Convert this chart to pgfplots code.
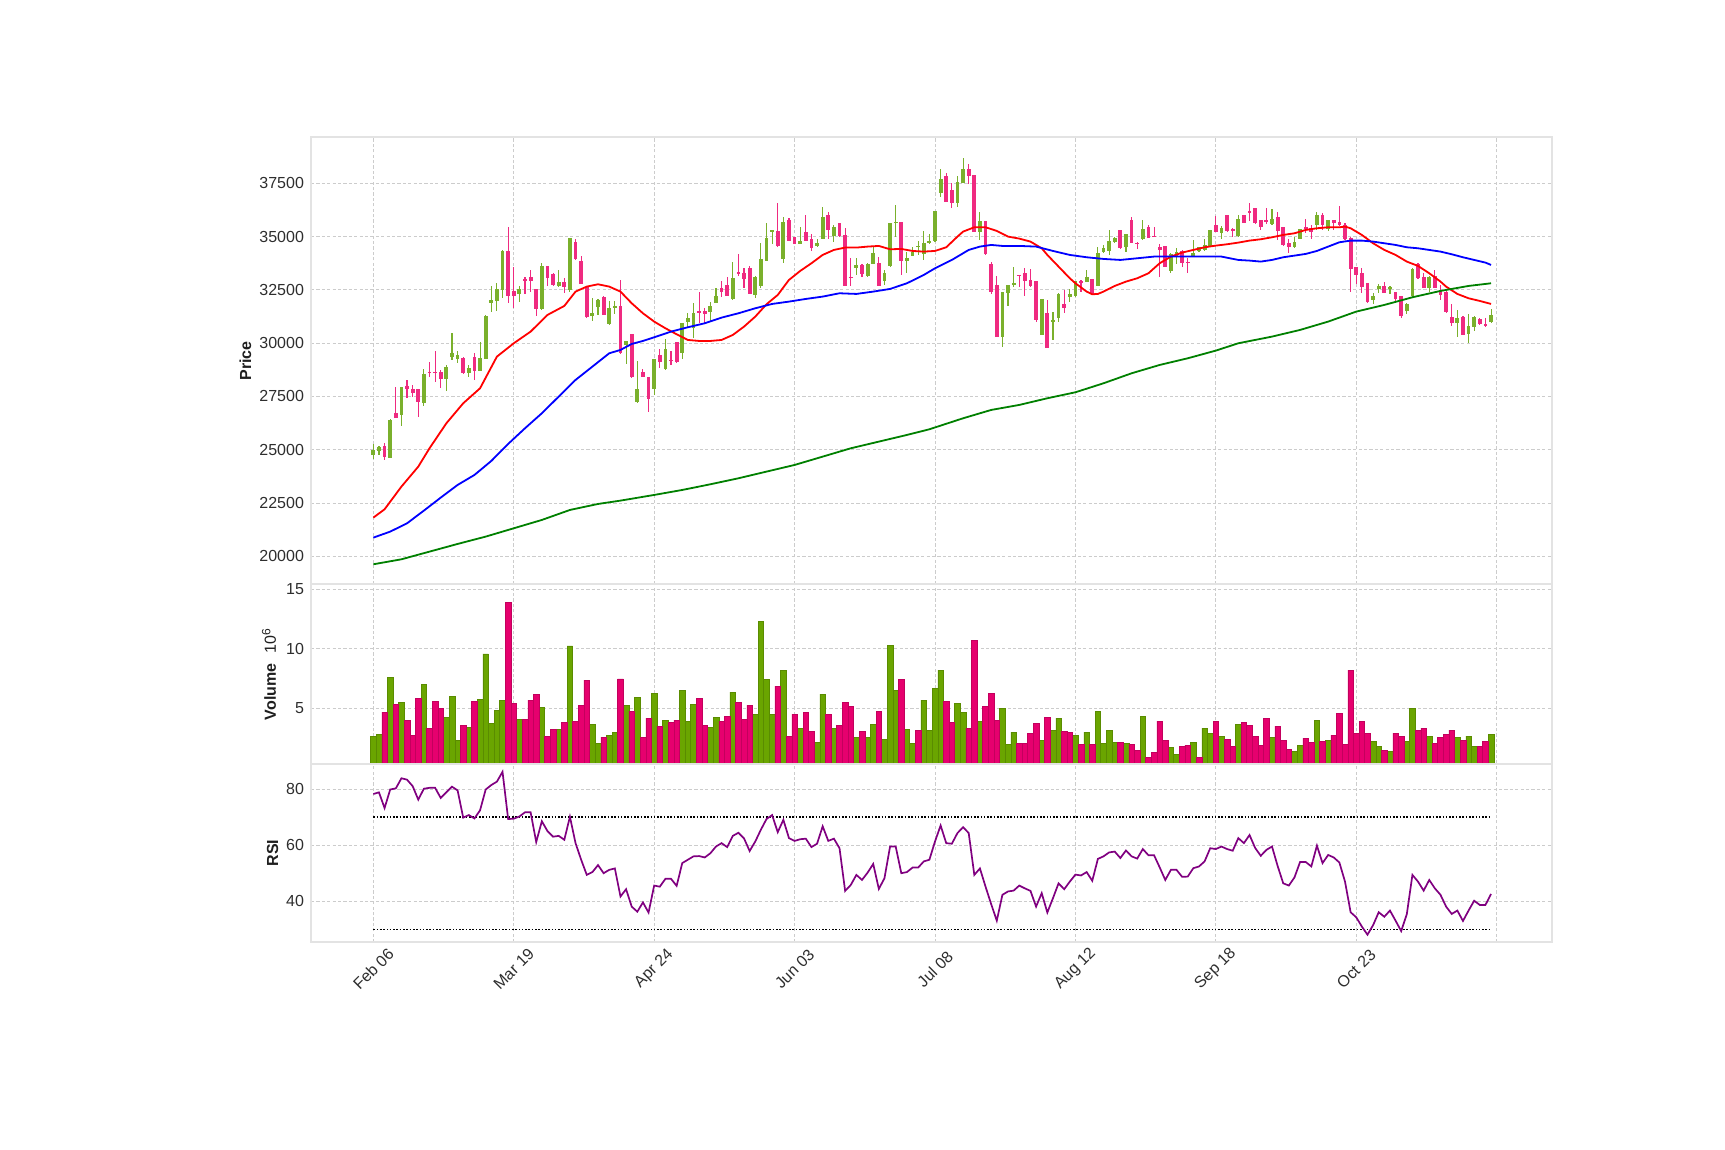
\documentclass[border=0pt]{standalone}
\usepackage{pgfplots}
\pgfplotsset{compat=1.18}
\usepackage{pgfplotstable}
\usepackage{fontspec}
\setmainfont{Liberation Sans}
\definecolor{cup}{HTML}{7AB02C}
\definecolor{cdn}{HTML}{EF2A80}
\definecolor{vup}{HTML}{6AA500}
\definecolor{vdn}{HTML}{E6006E}
\definecolor{rsic}{HTML}{800080}
\definecolor{gmcol}{HTML}{008000}

\pgfplotstableread{
i o h l c v vu r
0 24754 25270 24551 24989 2.67 1 78.2
1 24958 25177 24754 25130 2.84 1 78.8
2 25177 25302 24520 24676 4.69 0 73.2
3 24629 26420 24600 26396 7.63 1 79.8
4 26709 27929 26490 26506 5.36 0 80.2
5 26631 27950 26115 27929 5.53 1 83.8
6 27992 28273 27413 27867 4.02 0 83.3
7 27851 28039 27491 27679 2.76 0 81.0
8 27835 27850 26522 27257 5.87 0 76.2
9 27178 28805 27053 28555 7.04 1 80.1
10 28664 29133 28398 28633 3.34 0 80.4
11 28664 29634 28164 28633 5.61 0 80.4
12 28633 28742 27882 28336 5.03 0 76.8
13 28336 28961 27773 28883 4.27 1 78.8
14 29368 30463 29212 29524 6.03 1 80.8
15 29243 29650 29055 29431 2.34 1 79.5
16 29290 29368 28539 28617 3.60 0 69.8
17 28586 28961 28398 28821 3.43 1 70.7
18 29337 29524 28273 28711 5.61 0 69.5
19 28711 30072 28690 29290 5.78 1 72.4
20 29274 31310 29243 31292 9.57 1 79.8
21 31902 32699 31480 32011 3.77 1 81.4
22 31996 32840 31495 32527 4.86 1 82.6
23 32496 34350 32105 34326 5.70 1 86.1
24 34326 35468 31902 32230 13.93 0 69.3
25 32449 33591 31636 32230 5.44 0 69.4
26 32324 32699 31917 32543 4.10 1 70.2
27 32997 33122 32293 32934 4.10 0 71.7
28 33106 33434 32418 32934 5.70 0 71.7
29 32527 32540 31292 31620 6.20 0 61.1
30 31589 33747 31558 33622 5.11 1 68.5
31 33622 33640 32699 33075 2.67 0 65.0
32 33247 33278 32699 32731 3.26 0 63.0
33 32684 33434 32621 32856 3.26 1 63.3
34 32872 33043 32371 32652 3.85 0 61.9
35 32496 34951 32418 34920 10.24 1 70.1
36 34764 34889 33904 33935 3.94 0 60.7
37 33841 34076 32760 32778 5.28 0 54.8
38 32652 32670 31183 31214 7.38 0 49.4
39 31292 32105 31026 31417 3.68 1 50.4
40 31714 32058 31323 32027 2.09 1 52.9
41 32183 32200 31308 31339 2.59 0 50.0
42 30901 31996 30838 31636 2.76 1 51.2
43 31667 31996 31354 31761 3.00 1 51.7
44 31745 32965 29500 29524 7.47 0 41.7
45 29915 30120 29024 30103 5.28 1 44.3
46 30432 30450 28380 28398 4.77 0 38.1
47 27225 29165 27200 27851 5.95 1 36.3
48 28633 28774 28398 28430 2.59 0 39.6
49 28398 28410 26787 27366 4.19 0 36.0
50 27835 29260 27569 29243 6.29 1 45.6
51 29446 29712 28852 29133 3.51 0 45.2
52 28774 30181 28742 29712 4.02 1 48.0
53 29212 29634 28961 29165 3.85 0 48.0
54 30041 30060 29086 29133 4.02 0 45.5
55 29556 30950 29243 30932 6.54 1 53.6
56 31010 31433 30776 31167 3.94 1 54.8
57 30697 31870 30228 31401 5.36 1 56.0
58 31495 32386 30963 31433 5.87 0 56.1
59 31511 31636 30963 31354 3.60 0 55.6
60 31480 31949 31010 31745 3.43 1 57.1
61 31902 32574 31870 32214 4.27 1 59.5
62 32590 32903 32183 32418 3.94 0 60.7
63 32715 33122 32200 32214 4.36 0 59.3
64 32089 33825 32027 33059 6.37 1 63.3
65 33341 34185 33153 33262 5.53 0 64.4
66 33294 33513 32606 33028 4.10 0 62.4
67 33513 33638 32290 32308 5.28 0 57.9
68 32277 33140 32105 33122 4.52 1 61.3
69 32699 34686 32574 33951 12.33 1 65.5
70 33872 35624 33860 34936 7.46 1 69.3
71 35202 35330 34639 35311 4.52 1 70.7
72 35264 36562 34529 34576 6.87 0 64.6
73 33966 35937 33747 35687 8.22 1 69.0
74 35780 35890 34795 34811 2.67 0 62.5
75 34967 34980 34654 34670 4.52 0 61.5
76 34670 35436 34654 34795 3.34 1 62.1
77 35233 35999 34795 34811 4.69 0 62.3
78 34889 35108 34326 34482 3.09 0 59.3
79 34561 34873 34498 34686 2.17 1 60.5
80 34905 36406 34890 35921 6.20 1 66.7
81 36015 36171 34873 35296 4.52 0 61.5
82 35030 35546 34733 35436 3.34 1 62.3
83 35624 35655 34998 35014 3.60 0 58.9
84 35077 35389 32680 32699 5.53 0 43.7
85 33122 33982 32699 33043 5.19 0 45.8
86 33513 33982 33200 33669 2.59 1 49.4
87 33669 33716 33090 33247 3.09 0 47.6
88 33153 33747 33122 33716 2.59 1 50.2
89 33700 34498 33690 34232 3.68 1 53.3
90 33747 34060 32680 32699 4.77 0 44.4
91 32934 33434 32731 33278 2.42 1 48.2
92 33638 35640 33591 35624 10.32 1 59.5
93 35624 36484 34967 35702 6.54 1 59.5
94 35687 35700 33184 33872 7.46 0 50.0
95 33872 34294 33309 34013 3.26 1 50.4
96 34091 34529 34080 34294 2.09 1 52.0
97 34529 34795 34138 34561 3.18 0 52.0
98 34170 35280 33904 34686 5.70 1 54.2
99 34686 35108 34654 34795 3.18 1 54.8
100 34811 36220 34764 36203 6.71 1 61.3
101 37063 38158 36844 37704 8.22 1 67.0
102 37845 37970 36620 36641 5.61 0 60.7
103 37188 37501 36328 36594 3.85 0 60.5
104 36594 37845 36375 37548 5.44 1 64.3
105 37532 38674 37510 38158 4.69 1 66.4
106 38158 38392 37454 37861 3.34 0 64.3
107 37892 37910 35210 35233 10.74 0 49.4
108 35233 36140 34842 35734 3.94 1 51.7
109 35734 35750 34138 34170 5.19 0 45.2
110 33716 33825 32293 32418 6.29 0 39.0
111 32731 33153 30290 30306 4.02 0 33.1
112 30306 32400 29806 32386 5.03 1 42.3
113 32371 32750 31761 32731 2.00 1 43.5
114 32731 33560 32621 32809 3.00 1 43.8
115 33200 33215 32652 33169 2.09 0 45.6
116 33278 33513 32214 32934 2.09 0 44.6
117 32965 33481 32652 32699 2.92 0 43.7
118 32918 32930 31010 31088 3.76 0 38.1
119 30385 32089 30370 32058 2.34 1 42.9
120 31401 32011 29775 29790 4.27 0 36.0
121 31010 31448 30150 31088 3.18 1 41.1
122 31198 32340 31010 32293 4.19 1 46.4
123 31839 32496 31401 31636 3.09 0 44.3
124 32183 32527 31949 32308 3.00 0 47.0
125 32214 32930 32183 32918 2.76 1 49.5
126 32903 32965 32418 32809 2.00 0 49.2
127 32887 33434 32856 33122 3.00 1 50.4
128 33012 33030 32261 32308 2.00 0 47.3
129 32699 34529 32680 34216 4.77 1 55.1
130 34294 34608 34248 34451 2.09 1 56.0
131 34326 35311 34138 34795 3.18 1 57.4
132 34764 34998 34717 34951 2.17 1 57.7
133 35311 35330 34404 34451 2.17 0 55.4
134 34498 35140 34294 35124 2.09 1 58.1
135 35780 35937 34700 34717 2.00 0 56.0
136 34717 34764 34404 34639 1.50 0 55.2
137 34873 35780 34842 35342 4.36 1 58.6
138 35468 35546 34930 34951 0.91 0 56.4
139 35030 35468 34980 34998 1.33 0 56.4
140 34529 34654 33090 34388 3.94 0 52.1
141 34561 34580 33575 33591 2.34 0 47.6
142 33388 34216 33309 34170 1.75 1 51.2
143 34060 34451 33716 34294 1.16 1 51.2
144 34326 34373 33591 33779 1.83 0 48.7
145 33810 33982 33278 33779 1.92 0 48.8
146 34060 34842 34029 34216 2.17 1 51.8
147 34342 34529 34294 34498 0.91 0 52.4
148 34373 34873 34342 34608 3.34 1 54.2
149 34561 35330 34529 35311 2.92 1 58.9
150 35546 35968 35210 35233 3.94 0 58.6
151 35186 35499 34873 35389 2.67 1 59.5
152 35999 36015 35233 35280 2.42 0 58.6
153 35342 35389 34998 35280 1.83 0 58.0
154 35030 36015 34998 35812 3.68 1 62.5
155 36015 36030 35624 35655 3.85 0 60.7
156 36203 36562 35734 36093 3.60 0 63.6
157 36328 36340 35593 35655 2.67 0 59.0
158 35765 35780 35311 35436 1.92 0 56.2
159 35780 36328 35593 35671 4.19 0 58.3
160 35577 36281 35560 35827 2.59 1 59.5
161 35905 36140 34842 35264 3.51 0 52.6
162 35436 35450 34561 34608 2.34 0 46.4
163 34686 34873 34216 34498 1.59 0 45.6
164 34498 34998 34451 34764 1.42 1 48.5
165 34905 35360 34889 35342 1.92 1 54.0
166 35468 35812 35186 35342 2.50 0 54.0
167 35389 35546 34905 35233 2.17 0 52.4
168 35546 36171 35311 36015 4.02 1 59.8
169 36015 36125 35311 35546 2.25 0 53.6
170 35342 35800 35280 35780 2.34 1 56.5
171 35780 35795 35311 35655 2.76 0 55.6
172 35687 36437 35499 35530 4.61 0 53.8
173 35546 35655 34842 34873 2.00 0 47.0
174 34951 34998 32418 33466 8.22 0 36.1
175 33575 33590 32778 33200 2.92 0 34.3
176 33294 33513 32371 32621 3.94 0 31.0
177 32809 32825 31902 31949 2.92 0 28.1
178 32027 32371 31823 32214 2.25 1 31.5
179 32527 32778 32340 32699 1.83 1 36.1
180 32684 32887 32340 32371 1.50 0 34.5
181 32527 32699 32324 32652 1.42 1 36.7
182 32386 32400 31902 32058 2.92 0 33.1
183 32214 32230 31167 31276 2.67 0 29.4
184 31495 31870 31354 31839 2.25 1 35.4
185 32214 33528 32183 33497 5.03 1 49.4
186 33716 33747 32997 33043 3.18 0 47.0
187 33122 33309 32574 32606 3.34 0 43.8
188 32606 33140 32418 33122 2.67 1 47.6
189 33153 33434 32574 32606 2.09 0 44.6
190 32496 32731 32027 32246 2.59 0 42.3
191 32418 32430 31401 31480 2.84 0 38.1
192 31214 31823 30807 30963 3.18 0 35.5
193 30963 31558 30306 31198 2.59 1 36.7
194 31245 31260 30370 30385 2.34 0 33.0
195 30416 31354 29994 30807 2.67 1 36.7
196 30776 31292 30588 31214 1.83 1 40.2
197 31136 31167 30838 30885 1.83 0 38.7
198 30885 31167 30776 30854 2.25 0 38.7
199 30979 31589 30932 31323 2.84 1 42.6
}\data

\pgfplotsset{
  panel/.style={
    scale only axis, width=620.35pt,
    xmin=-11.1, xmax=209.8,
    xtick={0,25,...,200},
    grid=major,
    major grid style={draw=black!20, line width=0.45pt, dash pattern=on 1.6pt off 1.1pt},
    axis line style={draw=black!11, line width=1pt},
    major tick length=0pt,
    tick label style={font=\fontsize{8}{9.6}\selectfont, text=black!82},
    /pgf/number format/assume math mode=true,
    /pgf/number format/1000 sep={},
    /pgf/number format/fixed,
    scaled y ticks=false,
    anchor=south west,
  },
  ylab/.style={every axis y label/.style={at={(rel axis cs:0,0.5)}, xshift=#1, rotate=90, anchor=center,
    font=\bfseries\fontsize{8}{9.6}\selectfont, text=black!88}},
}

\begin{document}
\begin{tikzpicture}
\path[use as bounding box] (0,0) rectangle (862.5pt,575pt);

% ---------- price panel ----------
\begin{axis}[panel, at={(155.5pt,282.75pt)}, height=223.5pt,
  ymin=18677, ymax=39649,
  ytick={20000,22500,...,37500},
  xticklabels={},
  ylabel={Price}, ylab=-32.75pt,
]
% wicks
\addplot[draw=none, mark=none, forget plot,
  restrict expr to domain={\thisrow{c}-\thisrow{o}}{0:100000},
  error bars/.cd, y dir=both, y explicit, error mark=none,
  error bar style={draw=cup, line width=0.55pt}]
  table[x=i, y expr={(\thisrow{h}+\thisrow{l})/2}, y error expr={(\thisrow{h}-\thisrow{l})/2}] {\data};
\addplot[draw=none, mark=none, forget plot,
  restrict expr to domain={\thisrow{c}-\thisrow{o}}{-100000:-0.001},
  error bars/.cd, y dir=both, y explicit, error mark=none,
  error bar style={draw=cdn, line width=0.55pt}]
  table[x=i, y expr={(\thisrow{h}+\thisrow{l})/2}, y error expr={(\thisrow{h}-\thisrow{l})/2}] {\data};
% bodies
\addplot[draw=none, mark=none, forget plot,
  restrict expr to domain={\thisrow{c}-\thisrow{o}}{0:100000},
  error bars/.cd, y dir=both, y explicit, error mark=none,
  error bar style={draw=cup, line width=1.9pt}]
  table[x=i, y expr={(\thisrow{o}+\thisrow{c})/2}, y error expr={max(abs(\thisrow{c}-\thisrow{o})/2,14)}] {\data};
\addplot[draw=none, mark=none, forget plot,
  restrict expr to domain={\thisrow{c}-\thisrow{o}}{-100000:-0.001},
  error bars/.cd, y dir=both, y explicit, error mark=none,
  error bar style={draw=cdn, line width=1.9pt}]
  table[x=i, y expr={(\thisrow{o}+\thisrow{c})/2}, y error expr={max(abs(\thisrow{c}-\thisrow{o})/2,14)}] {\data};
% moving averages
\addplot[red, line width=0.9pt, mark=none] coordinates {(0,21814)(2,22205)(5,23269)(8,24207)(10,25067)(13,26240)(16,27179)(19,27883)(22,29368)(25,29994)(28,30541)(31,31323)(34,31746)(36,32418)(38,32653)(40,32762)(42,32653)(44,32418)(46,31871)(48,31401)(50,31011)(52,30698)(54,30416)(56,30150)(58,30103)(60,30103)(62,30150)(64,30385)(66,30776)(68,31245)(70,31824)(72,32262)(74,32966)(76,33388)(78,33748)(80,34139)(82,34374)(84,34483)(86,34483)(88,34530)(90,34561)(92,34404)(94,34420)(96,34326)(98,34295)(100,34326)(102,34498)(104,34999)(105,35233)(107,35437)(109,35437)(111,35265)(113,34999)(115,34905)(117,34764)(119,34451)(120,34139)(122,33591)(124,33044)(125,32809)(127,32418)(128,32293)(129,32309)(130,32418)(132,32684)(134,32887)(136,33044)(138,33278)(140,33748)(142,34061)(144,34248)(146,34374)(148,34498)(150,34576)(152,34639)(154,34717)(156,34811)(158,34874)(160,34967)(162,35077)(164,35155)(166,35311)(168,35390)(170,35437)(172,35437)(173,35468)(174,35390)(176,35077)(178,34686)(180,34373)(182,34139)(184,33826)(186,33623)(188,33278)(190,32887)(191,32653)(193,32309)(195,32105)(197,31980)(199,31840)};
\addplot[blue, line width=0.9pt, mark=none] coordinates {(0,20876)(3,21157)(6,21548)(9,22143)(12,22753)(15,23347)(18,23816)(21,24473)(24,25271)(27,26006)(30,26710)(33,27492)(36,28274)(39,28899)(42,29525)(44,29681)(46,29963)(48,30103)(50,30275)(53,30541)(56,30745)(59,30932)(62,31198)(65,31401)(68,31636)(71,31839)(74,31949)(77,32074)(80,32184)(83,32340)(86,32309)(89,32418)(92,32543)(95,32809)(98,33200)(100,33513)(103,33904)(106,34373)(108,34530)(110,34608)(112,34561)(115,34561)(118,34530)(121,34326)(124,34139)(127,34029)(130,33951)(133,33904)(136,33982)(139,34061)(142,34061)(145,34061)(148,34061)(151,34061)(154,33904)(156,33873)(158,33826)(160,33904)(162,34029)(164,34107)(166,34186)(168,34326)(170,34530)(172,34733)(174,34811)(176,34811)(178,34764)(180,34686)(182,34608)(184,34498)(186,34451)(188,34373)(190,34295)(192,34170)(194,34029)(196,33904)(198,33779)(199,33670)};
\addplot[gmcol, line width=0.9pt, mark=none] coordinates {(0,19625)(5,19859)(10,20219)(15,20579)(20,20923)(25,21314)(30,21705)(35,22174)(40,22455)(44,22612)(50,22878)(55,23112)(60,23378)(65,23660)(70,23973)(75,24285)(80,24676)(85,25067)(90,25380)(95,25693)(99,25959)(105,26475)(110,26866)(115,27101)(120,27414)(125,27695)(130,28117)(135,28586)(140,28977)(145,29290)(150,29650)(154,29994)(160,30307)(165,30620)(170,31011)(175,31480)(180,31793)(185,32152)(190,32450)(195,32684)(199,32809)};
\end{axis}

% ---------- volume panel ----------
\begin{axis}[panel, at={(155.5pt,193.15pt)}, height=89.6pt,
  ymin=0.36, ymax=15.4,
  ytick={5,10,15},
  xticklabels={},
  ylabel={Volume\hspace{5pt}\mdseries10\textsuperscript{6}}, ylab=-21pt,
]
\addplot[ybar, bar width=1, bar shift=0pt, fill=vup, draw=vup!85!black, line width=0.25pt,
  restrict expr to domain={\thisrow{vu}}{0.5:1.5}] table[x=i, y=v] {\data};
\addplot[ybar, bar width=1, bar shift=0pt, fill=vdn, draw=vdn!85!black, line width=0.25pt,
  restrict expr to domain={\thisrow{vu}}{-0.5:0.5}] table[x=i, y=v] {\data};
\end{axis}

% ---------- RSI panel ----------
\begin{axis}[panel, at={(155.5pt,103.85pt)}, height=89.3pt,
  ymin=25.4, ymax=89.0,
  ytick={40,60,80},
  xticklabels={Feb 06,Mar 19,Apr 24,Jun 03,Jul 08,Aug 12,Sep 18,Oct 23,{}},
  xticklabel style={yshift=-13.35pt, rotate=45, anchor=center},
  ylabel={RSI}, ylab=-19.25pt,
]
\addplot[black, line width=0.7pt, dash pattern=on 0.8pt off 0.85pt, mark=none] coordinates {(0,70)(199,70)};
\addplot[black, line width=0.7pt, dash pattern=on 0.8pt off 0.85pt, mark=none] coordinates {(0,30)(199,30)};
\addplot[rsic, line width=0.85pt, mark=none] table[x=i, y=r] {\data};
\end{axis}
\end{tikzpicture}
\end{document}
